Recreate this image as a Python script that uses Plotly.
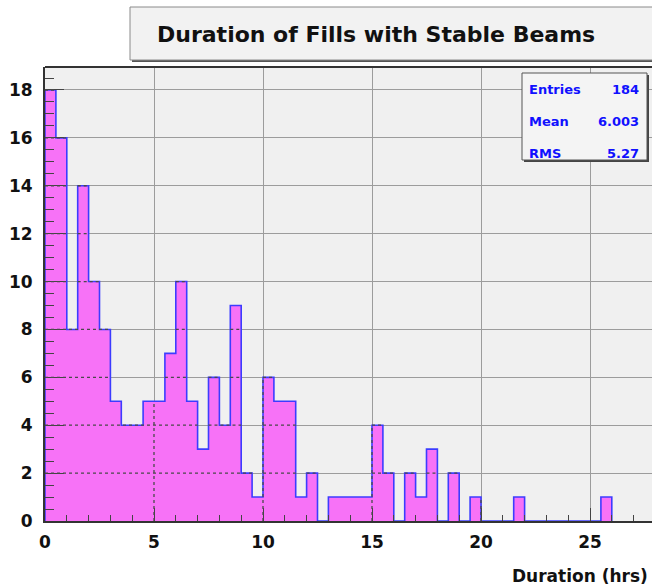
import plotly.graph_objects as go

# Histogram: duration of LHC fills with stable beams, 0.5 h bins starting at 0
bin_width = 0.5
counts = [18, 16, 8, 14, 10, 8, 5, 4, 4, 5,
          5, 7, 10, 5, 3, 6, 4, 9, 2, 1,
          6, 5, 5, 1, 2, 0, 1, 1, 1, 1,
          4, 2, 0, 2, 1, 3, 0, 2, 0, 1,
          0, 0, 0, 1, 0, 0, 0, 0, 0, 0,
          0, 1]
stat_labels = ["Entries", "Mean", "RMS"]
stat_values = [str(sum(counts)), "6.003", "5.27"]
x_ticks = [0, 5, 10, 15, 20, 25]
y_ticks = [0, 2, 4, 6, 8, 10, 12, 14, 16, 18]

title_text = "Duration of Fills with Stable Beams"
x_title = "Duration (hrs)"

W, H = 652, 587
L, T, R, B = 45, 67, 652, 521  # plot-area pixel box
X_MAX = (R - L) / 21.8
Y_MAX = 18.96

FONT = "DejaVu Sans, Liberation Sans, Arial, sans-serif"
PINK = "#f772f7"
BLUE = "#3c3cff"
GRID_DOT = dict(color="#4a4a4a", width=1.3, dash="dot")


def px_x(p):
    return (p - L) / (R - L)


def px_y(p):
    return (B - p) / (B - T)


# step outline with fill, built from the bin edges
edges = [i * bin_width for i in range(len(counts) + 1)]
xs = [0.0] + edges[:-1] + [edges[-1]]
ys = [0.0] + counts + [0.0]

fig = go.Figure()
fig.add_trace(go.Scatter(
    x=xs, y=ys, mode="lines", line=dict(shape="hv", color=BLUE, width=1.6),
    fill="tozeroy", fillcolor=PINK, hoverinfo="skip", showlegend=False,
))

shapes = []
# grid lines show through the filled histogram as dotted lines
for yv in y_ticks[1:]:
    start = None
    for i, c in enumerate(counts + [0]):
        if c >= yv and start is None:
            start = i
        elif c < yv and start is not None:
            shapes.append(dict(type="line", xref="x", yref="y",
                               x0=edges[start], x1=edges[i], y0=yv, y1=yv,
                               line=GRID_DOT, layer="above"))
            start = None
for xv in x_ticks[1:]:
    k = int(round(xv / bin_width))
    h = max(counts[k - 1] if k - 1 < len(counts) else 0,
            counts[k] if k < len(counts) else 0)
    if h > 0:
        shapes.append(dict(type="line", xref="x", yref="y", x0=xv, x1=xv, y0=0, y1=h,
                           line=GRID_DOT, layer="above"))
# frame top edge
shapes.append(dict(type="line", xref="paper", yref="paper", x0=0, x1=1.05, y0=1, y1=1,
                   line=dict(color="#333333", width=2), layer="above"))

# title box with shadow
shapes.append(dict(type="rect", xref="paper", yref="paper",
                   x0=px_x(132), x1=px_x(700), y0=px_y(62), y1=px_y(9),
                   line=dict(width=0), fillcolor="#555555", layer="above"))
shapes.append(dict(type="rect", xref="paper", yref="paper",
                   x0=px_x(130), x1=px_x(700), y0=px_y(60), y1=px_y(7),
                   line=dict(color="#8a8a8a", width=1), fillcolor="#f2f2f2", layer="above"))

# statistics box with shadow
shapes.append(dict(type="rect", xref="paper", yref="paper",
                   x0=px_x(524), x1=px_x(649), y0=px_y(162), y1=px_y(75),
                   line=dict(width=0), fillcolor="#444444", layer="above"))
shapes.append(dict(type="rect", xref="paper", yref="paper",
                   x0=px_x(522), x1=px_x(647), y0=px_y(160), y1=px_y(73),
                   line=dict(color="#555555", width=1), fillcolor="#f4f4f4", layer="above"))

annotations = [
    dict(text=title_text, xref="paper", yref="paper", x=px_x(155), y=px_y(35),
         xanchor="left", yanchor="middle", showarrow=False,
         font=dict(family=FONT, size=22, color="#111111", weight="bold")),
    dict(text=x_title, xref="paper", yref="paper", x=px_x(510), y=px_y(576),
         xanchor="left", yanchor="middle", showarrow=False,
         font=dict(family=FONT, size=17, color="#111111", weight="bold")),
]
row_y = [90, 121, 153]
for lab, val, yy in zip(stat_labels, stat_values, row_y):
    annotations.append(dict(text=lab, xref="paper", yref="paper", x=px_x(527), y=px_y(yy),
                            xanchor="left", yanchor="middle", showarrow=False,
                            font=dict(family=FONT, size=13, color="#1010ff", weight="bold")))
    annotations.append(dict(text=val, xref="paper", yref="paper", x=px_x(641), y=px_y(yy),
                            xanchor="right", yanchor="middle", showarrow=False,
                            font=dict(family=FONT, size=13, color="#1010ff", weight="bold")))

fig.update_layout(
    width=W, height=H,
    margin=dict(l=L, r=W - R, t=T, b=H - B, pad=0),
    paper_bgcolor="white", plot_bgcolor="#f0f0f0",
    shapes=shapes, annotations=annotations, showlegend=False,
)
fig.update_xaxes(
    range=[0, X_MAX], tickvals=x_ticks, ticktext=[str(v) for v in x_ticks],
    ticks="inside", ticklen=13, tickwidth=1, tickcolor="#444444",
    minor=dict(dtick=1, tick0=0, ticks="inside", ticklen=6, tickcolor="#444444", showgrid=False),
    showgrid=True, gridcolor="#9c9c9c", gridwidth=1, zeroline=False,
    showline=True, linecolor="#333333", linewidth=2, layer="above traces",
    ticklabelstandoff=5,
    tickfont=dict(family=FONT, size=17, color="#111111", weight="bold"),
    fixedrange=True,
)
fig.update_yaxes(
    range=[0, Y_MAX], tickvals=y_ticks, ticktext=[str(v) for v in y_ticks],
    ticks="inside", ticklen=19, tickwidth=1, tickcolor="#444444",
    minor=dict(dtick=0.5, tick0=0, ticks="inside", ticklen=9, tickcolor="#444444", showgrid=False),
    showgrid=True, gridcolor="#9c9c9c", gridwidth=1, zeroline=False,
    showline=True, linecolor="#333333", linewidth=2, layer="above traces",
    ticklabelstandoff=7,
    tickfont=dict(family=FONT, size=17, color="#111111", weight="bold"),
    fixedrange=True,
)

fig.write_html("out.html")
